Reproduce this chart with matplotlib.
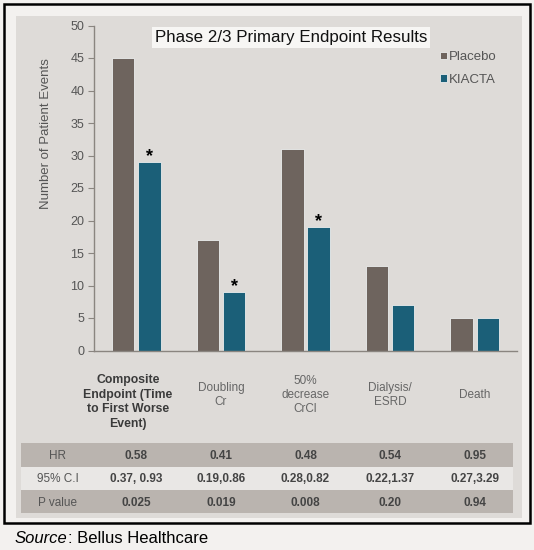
import numpy as np
import matplotlib.pyplot as plt
from matplotlib.patches import Rectangle
from matplotlib import transforms

plt.rcParams['font.family'] = ['Liberation Sans', 'DejaVu Sans']

# data
categories = ["Composite\nEndpoint (Time\nto First Worse\nEvent)", "Doubling\nCr",
              "50%\ndecrease\nCrCl", "Dialysis/\nESRD", "Death"]
placebo = [45, 17, 31, 13, 5]
kiacta = [29, 9, 19, 7, 5]
starred = [True, True, True, False, False]

row_labels = ["HR", "95% C.I", "P value"]
hr = ["0.58", "0.41", "0.48", "0.54", "0.95"]
ci = ["0.37, 0.93", "0.19,0.86", "0.28,0.82", "0.22,1.37", "0.27,3.29"]
p_value = ["0.025", "0.019", "0.008", "0.20", "0.94"]

W, H = 534, 550


def fx(px):
    return px / W


def fy(py):
    return 1 - py / H


fig = plt.figure(figsize=(W / 100, H / 100), dpi=100, facecolor='#f3f1ef')

# gray slide panel and black frame
fig.patches.append(Rectangle((fx(16), fy(518)), fx(506), (518 - 16) / H,
                             transform=fig.transFigure, facecolor='#dedbd8',
                             edgecolor='none', zorder=0))
fig.patches.append(Rectangle((fx(4), fy(523)), fx(526), (523 - 4) / H,
                             transform=fig.transFigure, fill=False,
                             edgecolor='black', linewidth=1.8, zorder=1))

ax = fig.add_axes([fx(94), fy(350.5), fx(517 - 94), (350.5 - 25.5) / H])
ax.patch.set_alpha(0)
ax.set_zorder(2)

x = np.arange(len(categories))
w = 0.265
ax.bar(x - 0.155, placebo, w, color='#6e645e', edgecolor='#eceeee',
       linewidth=0.6, label='Placebo')
ax.bar(x + 0.155, kiacta, w, color='#1b5f78', edgecolor='#eceeee',
       linewidth=0.6, label='KIACTA')

for i in range(len(categories)):
    if starred[i]:
        ax.text(x[i] + 0.155, kiacta[i] + 0.1, '*', ha='center', va='baseline',
                fontsize=13, fontweight='bold', color='black')

ax.set_xlim(-0.5, len(categories) - 0.5)
ax.set_ylim(0, 50)
ax.set_yticks(np.arange(0, 51, 5))
ax.set_xticks([])
ax.tick_params(axis='y', length=4, color='#8a8580', labelcolor='#555555',
               labelsize=9, pad=3)
for s in ['top', 'right']:
    ax.spines[s].set_visible(False)
for s in ['left', 'bottom']:
    ax.spines[s].set_color('#8a8580')
    ax.spines[s].set_linewidth(1.0)

fig.text(fx(46), fy(134), 'Number of Patient Events', rotation=90,
         ha='center', va='center', fontsize=9.5, color='#555555')

fig.text(fx(291), fy(37.5), 'Phase 2/3 Primary Endpoint Results', ha='center',
         va='center', fontsize=12.2, color='#111111',
         bbox=dict(facecolor='#f7f6f4', edgecolor='none', pad=2.2))

leg = ax.legend(loc='upper left', bbox_to_anchor=(fx(440), fy(51)),
                bbox_transform=fig.transFigure, frameon=False, fontsize=9.5,
                handlelength=0.5, handleheight=0.5, handletextpad=0.2,
                labelspacing=0.8, borderpad=0, borderaxespad=0)
for t in leg.get_texts():
    t.set_color('#555555')

# category labels under the axis
mix = transforms.blended_transform_factory(ax.transData, fig.transFigure)
for i, name in enumerate(categories):
    bold = i == 0
    ax.text(x[i] - (0.1 if bold else 0), fy(402 if bold else 395), name,
            transform=mix, ha='center', va='center',
            fontsize=8.8 if bold else 8.5, linespacing=1.3 if bold else 1.2,
            fontweight='bold' if bold else 'normal',
            color='#3a3a3a' if bold else '#666666', clip_on=False)

# statistics table
rows = [hr, ci, p_value]
row_top = [443, 466.5, 490]
row_bot = [466.5, 490, 513]
row_col = ['#bab4af', '#e9e7e5', '#bab4af']
for r in range(3):
    fig.patches.append(Rectangle((fx(21), fy(row_bot[r])), fx(513 - 21),
                                 (row_bot[r] - row_top[r]) / H,
                                 transform=fig.transFigure, facecolor=row_col[r],
                                 edgecolor='none', zorder=0.5))
    yc = fy((row_top[r] + row_bot[r]) / 2 + 1)
    fig.text(fx(58), yc, row_labels[r], ha='center', va='center',
             fontsize=8.5, color='#555555')
    for i, val in enumerate(rows[r]):
        ax.text(x[i], yc, val, transform=mix, ha='center', va='center',
                fontsize=8.5, fontweight='bold', color='#444444', clip_on=False)

src = fig.text(fx(15), fy(546), 'Source', style='italic', fontsize=12,
               ha='left', va='bottom', color='black')
ax.annotate(': Bellus Healthcare', xy=(1, 0), xycoords=src, ha='left',
            va='bottom', fontsize=12, color='black', annotation_clip=False)

fig.savefig('out.png', dpi=100, facecolor=fig.get_facecolor())
